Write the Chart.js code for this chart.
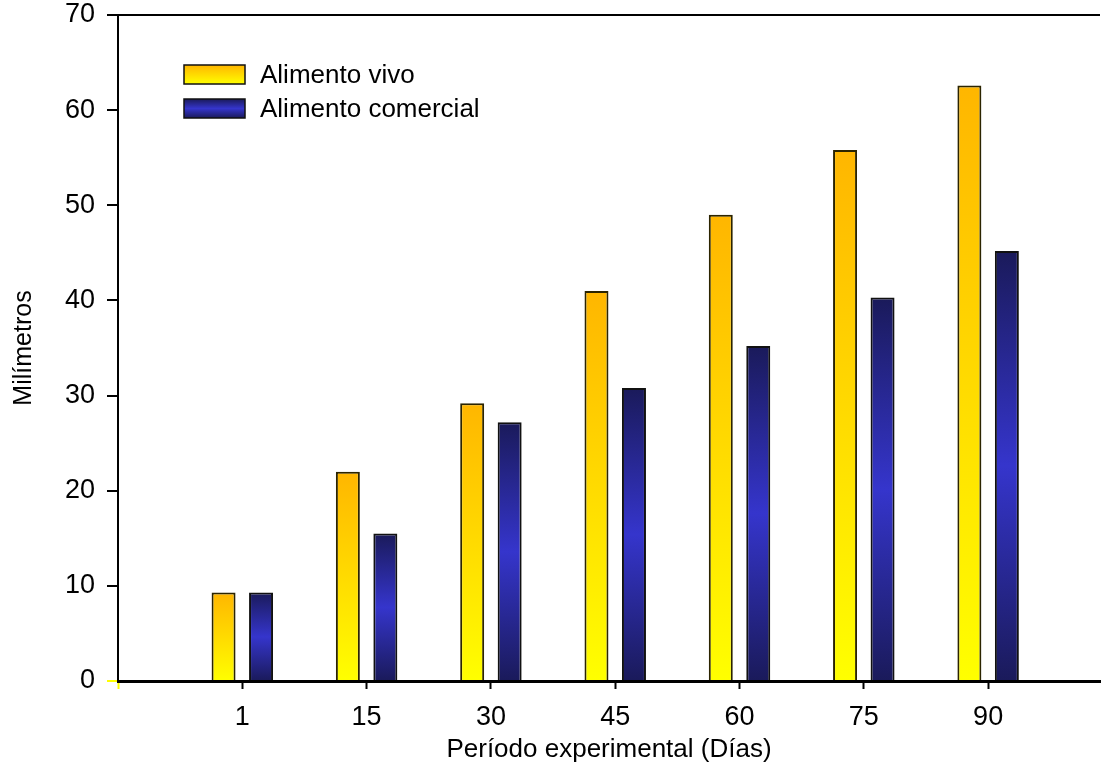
<!DOCTYPE html>
<html lang="es">
<head>
  <meta charset="UTF-8">
  <title>Milímetros por período experimental</title>
  <script src="https://cdn.jsdelivr.net/npm/chart.js"></script>
  <style>
    body {
      margin: 0;
      background: #fff;
    }
    canvas {
      display: block;
    }
  </style>
</head>
<body>

<canvas id="growthChart" width="1101" height="769"></canvas>

<script>
  // Data
  const categories = ['1', '15', '30', '45', '60', '75', '90'];
  const alimentoVivo = [9.3, 22.0, 29.2, 41.0, 49.0, 55.8, 62.6];
  const alimentoComercial = [9.3, 15.5, 27.2, 30.8, 35.2, 40.3, 45.2];
  const seriesLabels = ['Alimento vivo', 'Alimento comercial'];
  const yTicks = [0, 10, 20, 30, 40, 50, 60, 70];

  const FONT = '"Liberation Sans", Arial, sans-serif';

  // vertical gradient for a bar (or legend swatch) between y0 (top) and y1 (bottom)
  function barGradient(ctx, series, y0, y1) {
    const g = ctx.createLinearGradient(0, y0, 0, y1);
    if (series === 0) {
      g.addColorStop(0, '#ffb600');
      g.addColorStop(1, '#ffff00');
    } else {
      g.addColorStop(0, '#1a1a5a');
      g.addColorStop(0.5, '#3535cc');
      g.addColorStop(1, '#1a1a5a');
    }
    return g;
  }

  function scriptedFill(context) {
    const fallback = context.datasetIndex === 0 ? '#ffd000' : '#2a2a90';
    const chart = context.chart;
    const y = chart.scales && chart.scales.y;
    if (!y || !context.parsed) return fallback;
    const top = y.getPixelForValue(context.parsed.y);
    const base = y.getPixelForValue(0);
    if (!isFinite(top) || !isFinite(base) || top === base) return fallback;
    return barGradient(chart.ctx, context.datasetIndex, top, base);
  }

  const toPoints = arr => arr.map((v, i) => ({ x: i + 1, y: v }));

  // legend drawn inside the plot, top-left
  const insideLegend = {
    id: 'insideLegend',
    afterDraw(chart) {
      const c = chart.ctx;
      c.save();
      chart.data.datasets.forEach((ds, i) => {
        const x = 184, y = 65 + i * 34, w = 61, h = 19;
        c.fillStyle = barGradient(c, i, y, y + h);
        c.fillRect(x, y, w, h);
        c.strokeStyle = '#111';
        c.lineWidth = 1.5;
        c.strokeRect(x, y, w, h);
        c.fillStyle = '#000';
        c.font = '26px ' + FONT;
        c.textBaseline = 'middle';
        c.textAlign = 'left';
        c.fillText(ds.label, 260, y + h / 2 + 1);
      });
      c.restore();
    }
  };

  const ctx = document.getElementById('growthChart').getContext('2d');

  new Chart(ctx, {
    type: 'bar',
    data: {
      datasets: [
        {
          label: seriesLabels[0],
          data: toPoints(alimentoVivo),
          backgroundColor: scriptedFill,
          borderColor: '#2b2400',
          borderWidth: 2,
          categoryPercentage: 0.603,
          barPercentage: 0.64
        },
        {
          label: seriesLabels[1],
          data: toPoints(alimentoComercial),
          backgroundColor: scriptedFill,
          borderColor: '#111',
          borderWidth: 2,
          categoryPercentage: 0.603,
          barPercentage: 0.64
        }
      ]
    },
    options: {
      responsive: false,
      animation: false,
      layout: {
        padding: { top: 15, right: 1, left: 0, bottom: 0 }
      },
      plugins: {
        legend: { display: false },
        tooltip: { enabled: false }
      },
      scales: {
        x: {
          type: 'linear',
          min: 0,
          max: 7.9,
          offset: false,
          afterBuildTicks: scale => {
            scale.ticks = [0, 1, 2, 3, 4, 5, 6, 7].map(v => ({ value: v }));
          },
          afterFit: scale => {
            scale.height = 88;
            scale.paddingLeft = 0;
            scale.paddingRight = 0;
          },
          ticks: {
            autoSkip: false,
            maxRotation: 0,
            padding: 12,
            color: '#000',
            font: { family: FONT, size: 27 },
            callback: v => (v === 0 ? '' : categories[v - 1])
          },
          grid: {
            offset: false,
            drawOnChartArea: false,
            tickLength: 8,
            tickWidth: 2,
            tickColor: c => (c.tick && c.tick.value === 0 ? '#ffff00' : '#000')
          },
          border: { color: '#000', width: 3 },
          title: {
            display: true,
            text: 'Período experimental (Días)',
            color: '#000',
            font: { family: FONT, size: 26 },
            padding: { top: 0, bottom: 4 }
          }
        },
        y: {
          min: 0,
          max: 70,
          afterBuildTicks: scale => {
            scale.ticks = yTicks.map(v => ({ value: v }));
          },
          afterFit: scale => {
            scale.width = 118;
            scale.paddingTop = 0;
            scale.paddingBottom = 0;
          },
          ticks: {
            padding: 12,
            color: '#000',
            font: { family: FONT, size: 27 }
          },
          grid: {
            drawOnChartArea: true,
            lineWidth: 2,
            tickLength: 11,
            tickWidth: 2,
            color: c => (c.tick && c.tick.value === 70 ? '#000' : 'rgba(0,0,0,0)'),
            tickColor: c => (c.tick && c.tick.value === 0 ? '#ffff00' : '#000')
          },
          border: { color: '#000', width: 2 },
          title: {
            display: true,
            text: 'Milímetros',
            color: '#000',
            font: { family: FONT, size: 25 },
            padding: { top: 9, bottom: 0 }
          }
        }
      }
    },
    plugins: [insideLegend]
  });
</script>

</body>
</html>
